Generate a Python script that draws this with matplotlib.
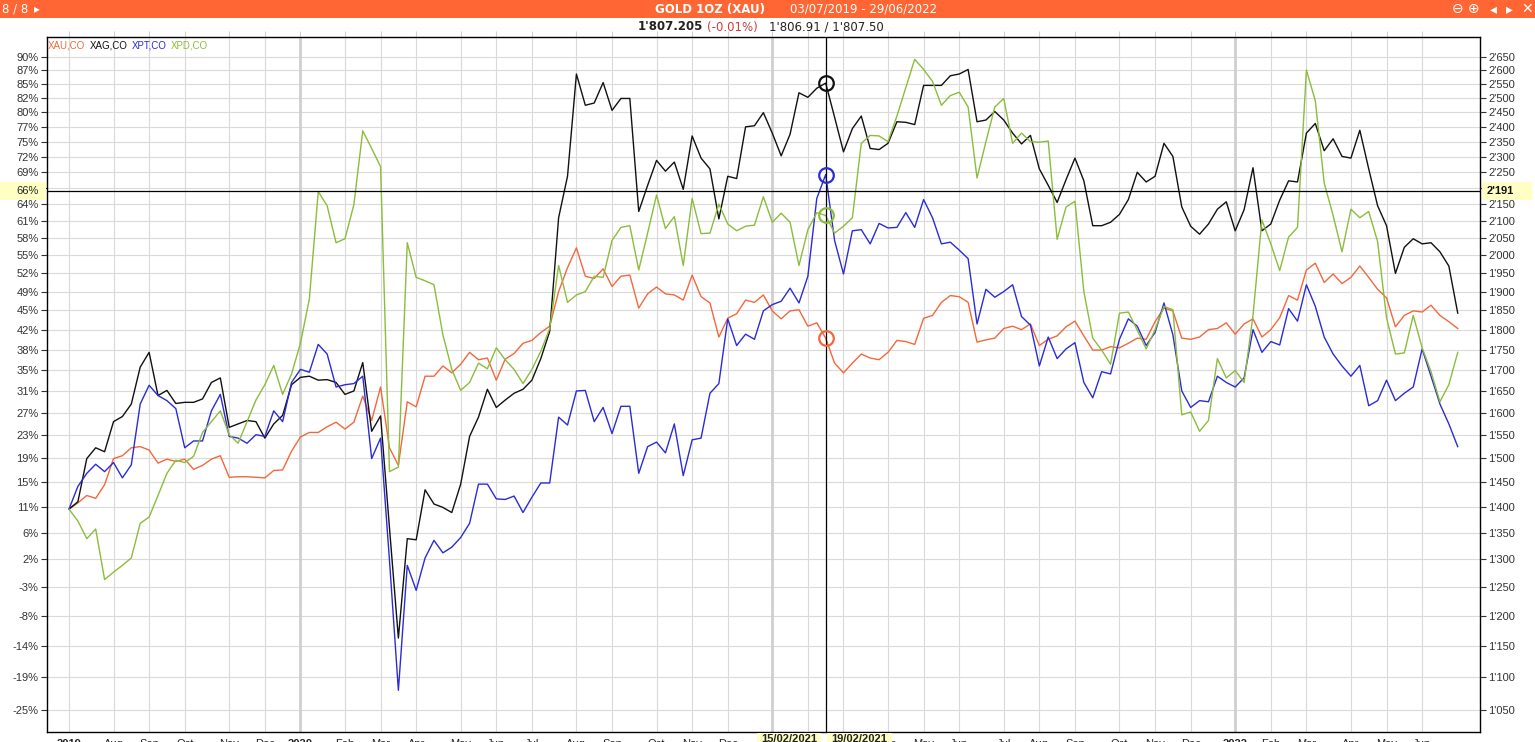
import matplotlib
matplotlib.use('Agg')
import matplotlib.pyplot as plt
from matplotlib.patches import Rectangle
import numpy as np
import pandas as pd

W, H = 1535, 742

# weekly closes, % change on the left scale (03/07/2019 .. 29/06/2022)
xau = [10.4, 11.5, 12.8, 12.3, 14.7, 19.3, 19.8, 21.2, 21.4, 20.8,
       18.5, 19.2, 18.8, 19.2, 17.4, 18.1, 19.2, 19.8, 16.0, 16.1,
       16.1, 16.0, 15.9, 17.2, 17.3, 20.6, 23.1, 23.9, 23.9, 24.9,
       25.7, 24.5, 25.7, 30.3, 26.0, 31.9, 21.2, 18.1, 29.3, 28.4,
       33.8, 33.8, 35.6, 34.4, 35.9, 38.0, 36.7, 37.0, 33.1, 36.8,
       37.8, 39.6,
       40.1, 41.5, 42.6, 48.7, 52.9, 56.4, 51.4, 51.0, 52.7, 49.6,
       51.4, 51.6, 45.8, 48.3, 49.5, 48.3, 48.1, 47.2, 51.6, 47.8,
       46.7, 40.7, 44.0, 44.8, 47.2, 46.8, 48.1, 45.3, 43.9, 45.3,
       45.5, 42.6, 43.2, 40.5, 36.1, 34.4, 36.1, 37.7, 37.0, 36.7,
       38.0, 40.1, 39.9, 39.4, 44.0, 44.5, 46.8, 48.0, 47.8, 46.8,
       39.8, 40.2, 40.5,
       42.2, 42.6, 42.0, 43.0, 39.2, 40.3, 40.9, 42.5, 43.5, 40.9,
       38.4, 38.4, 39.0, 38.8, 39.6, 40.5, 40.3, 43.4, 45.8, 45.3,
       40.5, 40.3, 40.7, 42.0, 42.2, 43.2, 41.2, 43.0, 43.9, 40.7,
       42.0, 44.1, 48.0, 47.2, 52.5, 53.7, 50.3, 51.8, 50.1, 51.2,
       53.2, 51.2, 49.1, 47.6, 42.5, 44.5, 45.3, 45.1, 46.3, 44.5,
       43.4, 42.2]

xag = [10.4, 11.7, 19.3, 21.2, 20.5, 25.8, 26.7, 28.9, 35.4, 38.0,
       30.4, 31.3, 29.0, 29.2, 29.2, 29.8, 32.7, 33.5, 24.8, 25.4,
       26.0, 25.8, 22.9, 25.4, 26.9, 32.3, 33.6, 33.8, 33.1, 33.2,
       32.7, 30.6, 31.2, 36.2, 24.1, 26.8, 7.1, -12.3, 5.2, 5.0,
       13.8, 11.3, 10.7, 9.8, 14.8, 23.2, 26.6, 31.5, 28.3, 29.6,
       30.8, 31.5,
       33.1, 36.9, 41.7, 61.7, 69.0, 87.0, 81.5, 81.9, 85.5, 80.6,
       82.7, 82.7, 62.8, 67.4, 71.8, 69.9, 71.5, 66.7, 76.1, 72.2,
       70.3, 61.5, 69.0, 68.6, 77.7, 77.9, 80.2, 76.6, 72.6, 76.4,
       83.7, 82.9, 84.5, 85.4, 79.4, 73.3, 77.4, 79.6, 73.9, 73.7,
       74.8, 78.6, 78.5, 78.1, 85.0, 85.0, 85.0, 86.7, 87.0, 87.8,
       78.6, 78.9, 80.4,
       78.9, 76.6, 74.7, 76.2, 70.3, 67.4, 64.4, 68.4, 72.2, 68.2,
       60.3, 60.3, 60.9, 62.3, 64.9, 69.7, 68.0, 69.0, 74.8, 72.5,
       63.6, 60.2, 58.8, 60.6, 63.2, 64.5, 59.4, 63.1, 70.5, 59.4,
       60.6, 64.8, 68.2, 68.0, 76.6, 78.3, 73.5, 75.6, 72.5, 72.2,
       77.1, 70.3, 63.8, 60.3, 51.9, 56.5, 58.0, 57.1, 57.3, 55.7,
       53.2, 44.9]

xpt = [10.4, 14.4, 16.7, 18.3, 17.0, 18.6, 15.9, 18.2, 28.9, 32.2,
       30.4, 29.5, 28.1, 21.2, 22.4, 22.4, 27.7, 30.6, 23.2, 22.9,
       22.0, 23.5, 23.2, 27.7, 25.8, 32.7, 35.0, 34.5, 39.4, 37.7,
       31.9, 32.3, 32.5, 33.8, 19.3, 22.9, 1.4, -21.5, 0.5, -3.9,
       1.8, 4.9, 2.7, 3.7, 5.4, 7.9, 14.8, 14.8, 12.2, 12.1,
       12.7, 9.8,
       12.5, 15.0, 15.0, 26.6, 25.2, 31.2, 31.3, 25.8, 28.3, 23.7,
       28.5, 28.5, 16.7, 21.4, 22.2, 20.3, 25.4, 16.3, 22.6, 22.9,
       30.8, 32.5, 43.9, 39.2, 41.2, 40.3, 45.3, 46.4, 47.0, 49.3,
       46.7, 51.4, 65.1, 69.3, 57.7, 51.8, 59.4, 59.6, 57.1, 60.7,
       59.9, 60.0, 62.6, 60.0, 64.9, 61.7, 57.1, 57.4, 56.0, 54.5,
       43.0, 49.1, 47.7,
       48.7, 49.9, 44.3, 42.8, 35.6, 40.7, 36.9, 38.6, 39.7, 32.7,
       30.0, 34.6, 34.2, 40.3, 43.9, 42.6, 39.2, 41.5, 46.7, 41.1,
       31.2, 28.3, 29.5, 29.3, 33.8, 32.7, 31.9, 33.5, 42.0, 38.0,
       39.9, 39.3, 45.7, 43.5, 49.9, 46.1, 40.7, 37.7, 35.6, 33.8,
       35.7, 28.6, 29.5, 33.1, 29.5, 30.8, 31.9, 38.6, 33.8, 28.9,
       25.4, 21.4]

xpd = [10.4, 8.3, 5.2, 6.9, -2.0, -0.7, 0.5, 1.8, 7.9, 9.0,
       12.8, 16.7, 19.0, 18.6, 19.7, 23.9, 25.8, 27.7, 23.5, 22.0,
       25.8, 29.6, 32.3, 35.7, 30.6, 34.2, 39.6, 47.4, 66.3, 63.8,
       57.3, 58.0, 64.0, 77.0, 73.9, 70.7, 17.0, 17.8, 57.3, 51.2,
       50.6, 49.9, 41.1, 35.0, 31.3, 32.7, 36.1, 35.1, 38.8, 36.7,
       35.0, 32.5,
       35.0, 38.2, 42.2, 53.3, 46.8, 48.1, 48.7, 51.4, 51.2, 57.7,
       60.0, 60.3, 52.5, 59.0, 65.7, 59.8, 61.9, 53.3, 65.1, 58.9,
       59.0, 64.1, 60.6, 59.4, 60.2, 60.4, 65.4, 60.9, 62.5, 60.9,
       53.3, 59.6, 62.6, 62.1, 59.0, 60.2, 61.7, 74.8, 76.2, 76.1,
       75.1, 79.6, 84.6, 89.6, 87.8, 85.7, 81.5, 83.2, 83.8, 81.2,
       68.7, 75.1, 81.2,
       82.7, 74.8, 76.6, 75.1, 75.0, 75.2, 57.9, 63.6, 64.6, 48.7,
       40.5, 38.4, 35.9, 44.9, 45.1, 41.9, 38.6, 42.0, 46.1, 45.5,
       27.0, 27.5, 24.1, 26.0, 36.9, 33.5, 34.8, 32.7, 44.5, 61.3,
       57.1, 52.4, 58.3, 60.0, 87.7, 82.3, 67.8, 62.1, 55.7, 63.2,
       61.7, 62.8, 57.5, 44.1, 37.7, 37.9, 44.5, 38.8, 34.6, 29.3,
       32.3, 38.0]

series = [('XAU,CO', xau, '#f2683c'), ('XAG,CO', xag, '#111111'),
          ('XPT,CO', xpt, '#2b2bd8'), ('XPD,CO', xpd, '#8cbc3c')]

dates = pd.date_range('2019-07-03', periods=len(xau), freq='7D')

# right scale = gold price (log), left scale = % labels at the same rows
price_ticks = np.arange(1050, 2651, 50)
pct_labels = ['-25%', '-19%', '-14%', '-8%', '-3%', '2%', '6%', '11%', '15%',
              '19%', '23%', '27%', '31%', '35%', '38%', '42%', '45%', '49%',
              '52%', '55%', '58%', '61%', '64%', '67%', '69%', '72%', '75%',
              '77%', '80%', '82%', '85%', '87%', '90%']
cursor_idx = 85
cursor_price = 2191
cursor_dates = ['15/02/2021', '19/02/2021']


def to_pct(price):
    return 90 - 124.15 * np.log(2650 / np.asarray(price, dtype=float))


def price_label(p):
    return f"{p // 1000}'{p % 1000:03d}"


fig = plt.figure(figsize=(W / 100, H / 100), dpi=100)
fig.patch.set_facecolor('white')

# header bar
fig.patches.append(Rectangle((0, 1 - 18 / H), 1, 18 / H, transform=fig.transFigure,
                             facecolor='#ff6633', edgecolor='none', zorder=0))
hfont = dict(family='DejaVu Sans', color='white', va='center', fontsize=8.5)
fig.text(2 / W, 1 - 9 / H, '8 / 8', **hfont)
fig.text(34 / W, 1 - 9 / H, '\u25b8', **hfont)
fig.text(655 / W, 1 - 9 / H, 'GOLD 1OZ (XAU)', fontweight='bold', **hfont)
fig.text(790 / W, 1 - 9 / H, '03/07/2019 - 29/06/2022', **hfont)
for x, ch in [(1452, '\u2296'), (1468, '\u2295'), (1490, '\u25c2'),
              (1506, '\u25b8'), (1521, '\u2715')]:
    fig.text(x / W, 1 - 9 / H, ch, family='DejaVu Sans', color='white',
             va='center', fontsize=10)

# quote line
qy = 1 - 27 / H
fig.text(638 / W, qy, "1'807.205", family='DejaVu Sans', fontweight='bold',
         fontsize=8.5, color='#222222', va='center')
fig.text(707 / W, qy, '(-0.01%)', family='DejaVu Sans', fontsize=8.5,
         color='#d23c3c', va='center')
fig.text(769 / W, qy, "1'806.91 / 1'807.50", family='DejaVu Sans',
         fontsize=8.5, color='#222222', va='center')

ax = fig.add_axes([47 / W, 1 - 732 / H, (1480 - 47) / W, (732 - 37) / H])
ax.set_xlim(-2.47, 158.5)
ax.set_ylim(-28.84, 93.52)

yt = to_pct(price_ticks)
ax.set_yticks(yt)
ax.set_yticklabels(pct_labels)

# month grid: first weekly point of each month
month_idx = [0] + [i for i in range(1, len(dates)) if dates[i].month != dates[i - 1].month]
month_lab = []
for i in month_idx:
    d = dates[i]
    lab = str(d.year) if (i == 0 or d.month == 1) else d.strftime('%b')
    # labels sitting under the cursor date boxes are hidden
    if abs(i - cursor_idx) < 7 and i < cursor_idx + 5:
        lab = ''
    month_lab.append(lab)
ax.set_xticks(month_idx)
ax.set_xticklabels(month_lab)
for lbl, i in zip(ax.get_xticklabels(), month_idx):
    if i == 0 or dates[i].month == 1:
        lbl.set_fontweight('bold')

for y in yt:
    ax.axhline(y, color='#dadada', lw=0.8, zorder=0)
for i in month_idx:
    yr = dates[i].month == 1
    ax.axvline(i, color='#cfcfcf' if yr else '#dadada', lw=2.0 if yr else 0.8, zorder=0)

x = np.arange(len(xau))
for name, vals, col in series:
    ax.plot(x, vals, color=col, lw=1.0, zorder=3)

# cursor
cy = to_pct(cursor_price)
ax.axhline(cy, color='black', lw=0.9, zorder=4)
ax.axvline(cursor_idx, color='black', lw=0.9, zorder=4)
for name, vals, col in series:
    ax.plot(cursor_idx, vals[cursor_idx], 'o', mfc='none', mec=col, ms=10.5,
            mew=1.6, zorder=5)

for s in ax.spines.values():
    s.set_color('black')
    s.set_linewidth(1.0)
ax.tick_params(axis='y', labelsize=8, colors='#333333', length=4, width=0.8,
               pad=2, labelfontfamily='Liberation Sans')
ax.tick_params(axis='x', labelsize=8, labelcolor='#222222', bottom=False, top=True,
               labelbottom=True, labeltop=False, length=4, color='#d0d0d0', pad=1,
               labelfontfamily='Liberation Sans')

ax2 = ax.twinx()
ax2.set_ylim(ax.get_ylim())
ax2.set_yticks(yt)
ax2.set_yticklabels([price_label(p) for p in price_ticks])
ax2.tick_params(axis='y', labelsize=8, colors='#333333', length=4, width=0.8,
                pad=2, labelfontfamily='Liberation Sans')
for s in ax2.spines.values():
    s.set_visible(False)

# legend
lx = 48
for name, vals, col in series:
    fig.text(lx / W, 1 - 45 / H, name, color=col, fontsize=7,
             family='Liberation Sans', va='center')
    lx += 42 if name != 'XPT,CO' else 39

# highlighted cursor labels
yel = '#ffffc4'
cyp = 57 + (90 - cy) * 5.68
fig.patches.append(Rectangle((0, 1 - (cyp + 9) / H), 46 / W, 18 / H,
                             transform=fig.transFigure, facecolor=yel,
                             edgecolor='none', zorder=2))
fig.text(39 / W, 1 - cyp / H, '66%', fontsize=8, family='Liberation Sans',
         ha='right', va='center', color='#222222', zorder=3)
fig.patches.append(Rectangle((1482 / W, 1 - (cyp + 9) / H), 50 / W, 18 / H,
                             transform=fig.transFigure, facecolor=yel,
                             edgecolor='none', zorder=2))
fig.text(1487 / W, 1 - cyp / H, price_label(cursor_price), fontsize=8,
         family='Liberation Sans', fontweight='bold', ha='left', va='center',
         color='#111111', zorder=3)

for (x0, x1), txt in zip([(757, 821), (827, 892)], cursor_dates):
    fig.patches.append(Rectangle((x0 / W, 0), (x1 - x0) / W, 9 / H,
                                 transform=fig.transFigure, facecolor=yel,
                                 edgecolor='none', zorder=2))
    fig.text((x0 + x1) / 2 / W, 1 - 739 / H, txt, fontsize=8,
             family='Liberation Sans', fontweight='bold', ha='center',
             va='center', color='#222222', zorder=3)

fig.savefig('out.png', dpi=100)
